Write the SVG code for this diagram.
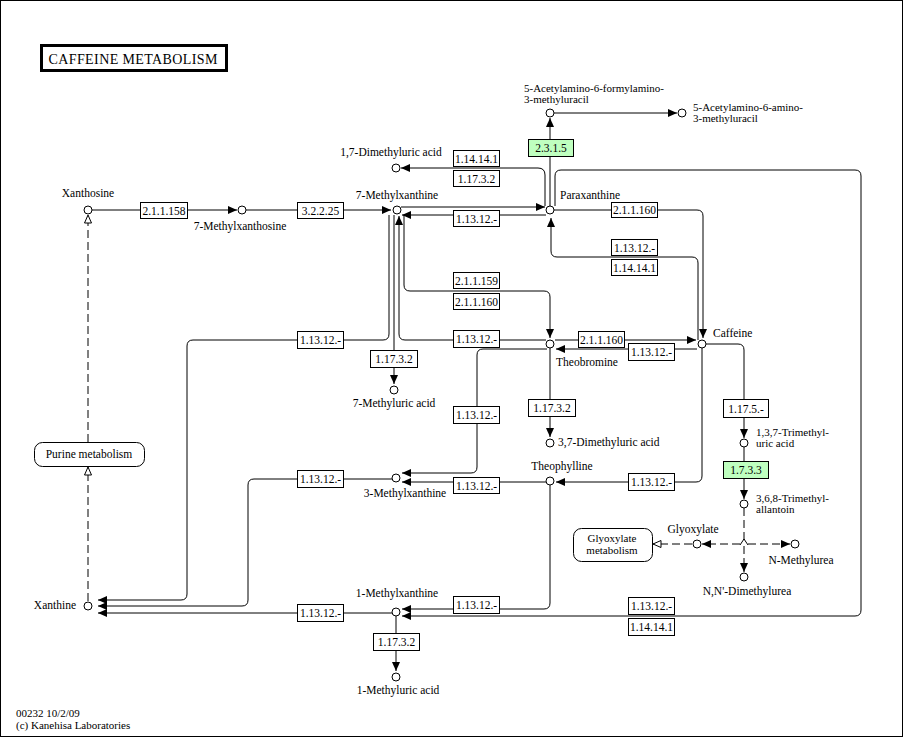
<svg xmlns="http://www.w3.org/2000/svg" width="905" height="738" viewBox="0 0 905 738">
<style>
text{font-family:"Liberation Serif","Times New Roman",serif;font-size:11.5px;fill:#000}
.c{text-anchor:middle}
.t2{font-size:11px}
.n circle{fill:#fff;stroke:#000;stroke-width:1}
.e rect{fill:#fff;stroke:#000;stroke-width:1}
.e text{font-size:11.5px;text-anchor:middle}
.g rect{fill:#bfffbf}
.m rect{fill:#fff;stroke:#000;stroke-width:1}
#conn path{fill:none;stroke:#000;stroke-width:1}
#conn .a{marker-end:url(#arr)}
#conn .d{stroke-dasharray:8,4}
#conn .o{marker-end:url(#open)}
</style>
<defs>
<marker id="arr" markerUnits="userSpaceOnUse" markerWidth="10" markerHeight="9" refX="9" refY="4" orient="auto" overflow="visible">
<path d="M0,0 L9,4 L0,8 z" fill="#000" stroke="none"/>
</marker>
<marker id="open" markerUnits="userSpaceOnUse" markerWidth="10" markerHeight="10" refX="9" refY="4" orient="auto" overflow="visible">
<path d="M1,0.5 L9,4 L1,7.5 z" fill="#fff" stroke="#000" stroke-width="1"/>
</marker>
</defs>
<rect x="0.5" y="0.5" width="902" height="736" fill="#fff" stroke="#000" stroke-width="1"/>
<g id="title">
<rect x="41.5" y="45.5" width="185" height="25" fill="#fff" stroke="#000" stroke-width="3"/>
<text x="133" y="64" class="c" style="font-size:14px" textLength="169" lengthAdjust="spacing">CAFFEINE  METABOLISM</text>
</g>

<g id="conn">
<path class="a" d="M92,210 H237"/>
<path class="a" d="M246,210 H391"/>
<path class="a" d="M401,207 H545"/>
<path class="a" d="M546,215 H402"/>
<path class="a" d="M545,206 V175 Q545,168 538,168 H401"/>
<path class="a" d="M550,206 V118"/>
<path class="a" d="M554,113 H677"/>
<path class="a" d="M554,210 H697 Q703,210 703,216 V338"/>
<path class="a" d="M698,340 V263 Q698,257 692,257 H557 Q551,257 551,251 V218"/>
<path class="a" d="M555,206 V176 Q555,170 561,170 H855 Q861,170 861,176 V610 Q861,616 855,616 H402"/>
<path class="a" d="M404,215 V285 Q404,291 410,291 H544 Q550,291 550,297 V338"/>
<path class="a" d="M546,340 H405 Q399,340 399,334 V216"/>
<path class="a" d="M389,215 V334 Q389,340 383,340 H193 Q187,340 187,346 V594 Q187,600 181,600 H98"/>
<path class="a" d="M394,215 V384"/>
<path class="a" d="M550,348 V437"/>
<path class="a" d="M555,340 H696"/>
<path class="a" d="M697,349 H556"/>
<path class="a" d="M547,349 H483 Q477,349 477,355 V467 Q477,473 471,473 H402"/>
<path class="a" d="M702,348 V476 Q702,482 696,482 H556"/>
<path class="a" d="M546,482 H402"/>
<path class="a" d="M550,485 V603 Q550,609 544,609 H402"/>
<path class="a" d="M392,479 H254 Q248,479 248,485 V600 Q248,606 242,606 H98"/>
<path class="a" d="M392,613 H98"/>
<path class="a" d="M396,616 V671"/>
<path class="a" d="M706,344 H738 Q744,344 744,350 V438"/>
<path class="a" d="M744,447 V499"/>
<path class="d" d="M744,508 V540"/>
<path class="d a" d="M740,544 H702"/>
<path class="d a" d="M748,544 H790"/>
<path class="d a" d="M744,546 V572"/>
<path d="M740,545 L744,539 L748,545"/>
<path class="d o" d="M692,544 H653"/>
<path class="d o" d="M88,601 V467"/>
<path class="d o" d="M88,442 V215"/>
</g>

<g id="enzymes">
<g class="e"><rect x="140.5" y="202.5" width="47" height="16"/><text x="164" y="215">2.1.1.158</text></g>
<g class="e"><rect x="297.5" y="202.5" width="46" height="16"/><text x="320.5" y="215">3.2.2.25</text></g>
<g class="e"><rect x="453.5" y="210.5" width="46" height="16"/><text x="476.5" y="223">1.13.12.-</text></g>
<g class="e"><rect x="453.5" y="150.5" width="46" height="16"/><text x="476.5" y="163">1.14.14.1</text></g>
<g class="e"><rect x="453.5" y="170.5" width="46" height="16"/><text x="476.5" y="183">1.17.3.2</text></g>
<g class="e g"><rect x="528.5" y="139.5" width="45" height="17"/><text x="551" y="152">2.3.1.5</text></g>
<g class="e"><rect x="611.5" y="202.5" width="46" height="15"/><text x="634.5" y="214">2.1.1.160</text></g>
<g class="e"><rect x="611.5" y="239.5" width="46" height="16"/><text x="634.5" y="252">1.13.12.-</text></g>
<g class="e"><rect x="611.5" y="259.5" width="46" height="16"/><text x="634.5" y="272">1.14.14.1</text></g>
<g class="e"><rect x="628.5" y="597.5" width="46" height="17"/><text x="651.5" y="610">1.13.12.-</text></g>
<g class="e"><rect x="628.5" y="618.5" width="46" height="17"/><text x="651.5" y="631">1.14.14.1</text></g>
<g class="e"><rect x="453.5" y="272.5" width="46" height="16"/><text x="476.5" y="285">2.1.1.159</text></g>
<g class="e"><rect x="453.5" y="293.5" width="46" height="16"/><text x="476.5" y="306">2.1.1.160</text></g>
<g class="e"><rect x="453.5" y="330.5" width="46" height="17"/><text x="476.5" y="343">1.13.12.-</text></g>
<g class="e"><rect x="297.5" y="331.5" width="46" height="17"/><text x="320.5" y="344">1.13.12.-</text></g>
<g class="e"><rect x="370.5" y="350.5" width="47" height="17"/><text x="394" y="363">1.17.3.2</text></g>
<g class="e"><rect x="528.5" y="399.5" width="47" height="17"/><text x="552" y="412">1.17.3.2</text></g>
<g class="e"><rect x="578.5" y="331.5" width="46" height="16"/><text x="601.5" y="344">2.1.1.160</text></g>
<g class="e"><rect x="628.5" y="343.5" width="46" height="17"/><text x="651.5" y="356">1.13.12.-</text></g>
<g class="e"><rect x="453.5" y="406.5" width="46" height="17"/><text x="476.5" y="419">1.13.12.-</text></g>
<g class="e"><rect x="628.5" y="473.5" width="46" height="17"/><text x="651.5" y="486">1.13.12.-</text></g>
<g class="e"><rect x="453.5" y="477.5" width="46" height="16"/><text x="476.5" y="490">1.13.12.-</text></g>
<g class="e"><rect x="453.5" y="596.5" width="46" height="17"/><text x="476.5" y="609">1.13.12.-</text></g>
<g class="e"><rect x="297.5" y="470.5" width="46" height="17"/><text x="320.5" y="483">1.13.12.-</text></g>
<g class="e"><rect x="297.5" y="604.5" width="46" height="17"/><text x="320.5" y="617">1.13.12.-</text></g>
<g class="e"><rect x="373.5" y="633.5" width="46" height="17"/><text x="396.5" y="646">1.17.3.2</text></g>
<g class="e"><rect x="723.5" y="399.5" width="45" height="18"/><text x="746" y="413">1.17.5.-</text></g>
<g class="e g"><rect x="723.5" y="461.5" width="45" height="17"/><text x="746" y="474">1.7.3.3</text></g>
</g>

<g id="xanthosine" class="n"><circle cx="88" cy="210" r="4"/><text x="88" y="197" class="c">Xanthosine</text></g>
<g id="methylxanthosine7" class="n"><circle cx="242" cy="210" r="4"/><text x="240" y="230" class="c">7-Methylxanthosine</text></g>
<g id="methylxanthine7" class="n"><circle cx="397" cy="210" r="4"/><text x="397" y="199" class="c">7-Methylxanthine</text></g>
<g id="paraxanthine" class="n"><circle cx="550" cy="210" r="4"/><text x="560" y="199">Paraxanthine</text></g>
<g id="afmu" class="n"><circle cx="550" cy="113" r="4"/><text x="524" y="92" class="t2">5-Acetylamino-6-formylamino-</text><text x="524" y="103" class="t2">3-methyluracil</text></g>
<g id="aamu" class="n"><circle cx="682" cy="113" r="4"/><text x="693" y="111" class="t2">5-Acetylamino-6-amino-</text><text x="693" y="122" class="t2">3-methyluracil</text></g>
<g id="dimethyluric17" class="n"><circle cx="396" cy="168" r="4"/><text x="391" y="156" class="c">1,7-Dimethyluric acid</text></g>
<g id="methyluric7" class="n"><circle cx="394" cy="390" r="4"/><text x="394" y="407" class="c">7-Methyluric acid</text></g>
<g id="theobromine" class="n"><circle cx="550" cy="344" r="4"/><text x="556" y="366">Theobromine</text></g>
<g id="caffeine" class="n"><circle cx="702" cy="344" r="4"/><text x="713" y="337">Caffeine</text></g>
<g id="dimethyluric37" class="n"><circle cx="550" cy="443" r="4"/><text x="558" y="446">3,7-Dimethyluric acid</text></g>
<g id="trimethyluric" class="n"><circle cx="744" cy="443" r="4"/><text x="756" y="436" class="t2">1,3,7-Trimethyl-</text><text x="756" y="447" class="t2">uric acid</text></g>
<g id="allantoin" class="n"><circle cx="744" cy="504" r="4"/><text x="756" y="502" class="t2">3,6,8-Trimethyl-</text><text x="756" y="513" class="t2">allantoin</text></g>
<g id="glyoxylate" class="n"><circle cx="697" cy="544" r="4"/><text x="693" y="533" class="c">Glyoxylate</text></g>
<g id="nmethylurea" class="n"><circle cx="795" cy="544" r="4"/><text x="801" y="564" class="c">N-Methylurea</text></g>
<g id="nndimethylurea" class="n"><circle cx="744" cy="577" r="4"/><text x="747" y="595" class="c">N,N'-Dimethylurea</text></g>
<g id="theophylline" class="n"><circle cx="550" cy="481" r="4"/><text x="562" y="470" class="c">Theophylline</text></g>
<g id="methylxanthine3" class="n"><circle cx="396" cy="478" r="4"/><text x="405" y="497" class="c">3-Methylxanthine</text></g>
<g id="methylxanthine1" class="n"><circle cx="396" cy="612" r="4"/><text x="397" y="597" class="c">1-Methylxanthine</text></g>
<g id="methyluric1" class="n"><circle cx="396" cy="677" r="4"/><text x="398" y="694" class="c">1-Methyluric acid</text></g>
<g id="xanthine" class="n"><circle cx="88" cy="606" r="4"/><text x="76" y="609" text-anchor="end">Xanthine</text></g>
<g id="purine" class="m"><rect x="34.5" y="442.5" width="110" height="24" rx="8"/><text x="89" y="458" class="c">Purine metabolism</text></g>
<g id="glyoxmeta" class="m"><rect x="573.5" y="528.5" width="79" height="33" rx="8"/><text x="612" y="542" class="c t2">Glyoxylate</text><text x="612" y="554" class="c t2">metabolism</text></g>

<g id="footer"><text x="16" y="717" class="t2">00232 10/2/09</text><text x="16" y="729" class="t2">(c) Kanehisa Laboratories</text></g>
</svg>
